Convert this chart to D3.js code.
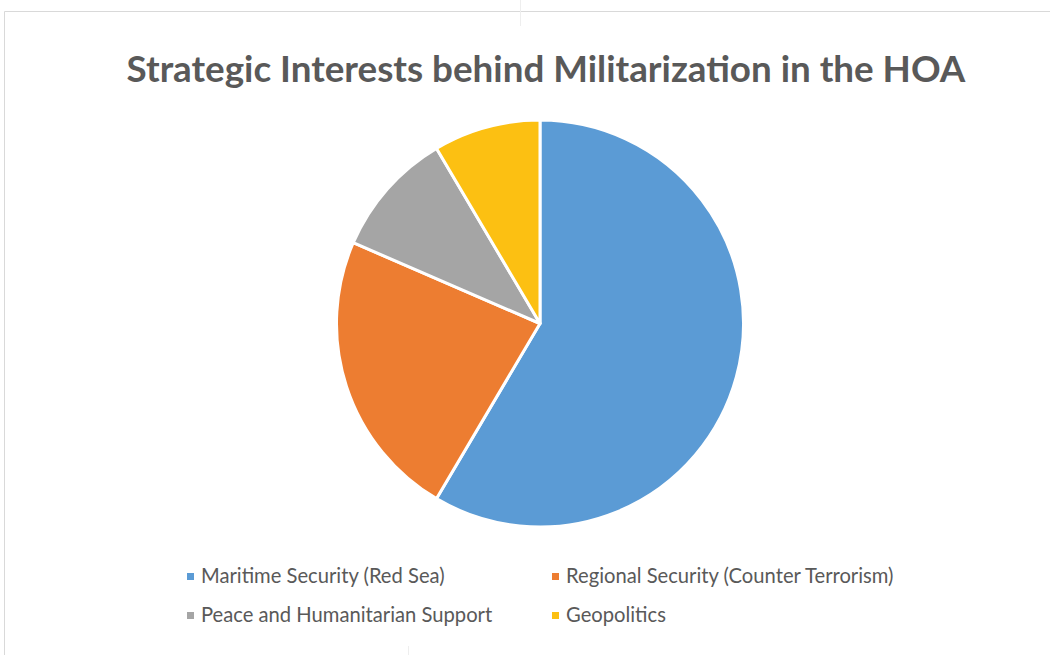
<!DOCTYPE html>
<html>
<head>
<meta charset="utf-8">
<script src="https://cdn.jsdelivr.net/npm/d3@7"></script>
<style>
  body { margin: 0; background: #fff; }
  svg { display: block; }
</style>
</head>
<body>
<div id="chart"></div>
<script>
// Data
const CATEGORIES = [
  "Maritime Security (Red Sea)",
  "Regional Security (Counter Terrorism)",
  "Peace and Humanitarian Support",
  "Geopolitics"
];
const VALUES = [58.5, 23, 10, 8.5];
const COLORS = ["#5b9bd5", "#ed7d31", "#a5a5a5", "#fcc012"];
const TITLE = "Strategic Interests behind Militarization in the HOA";

const W = 1050, H = 655;
const CX = 540, CY = 323.5, R = 203.5;

const svg = d3.select("#chart").append("svg")
  .attr("width", W)
  .attr("height", H);

// chart frame
svg.append("path")
  .attr("d", `M4.5,${H} V11.5 H${W}`)
  .attr("fill", "none")
  .attr("stroke", "#d9d9d9")
  .attr("stroke-width", 1);
svg.append("line")
  .attr("x1", 520.5).attr("x2", 520.5).attr("y1", 0).attr("y2", 26)
  .attr("stroke", "#eeeeee");
svg.append("line")
  .attr("x1", 408.5).attr("x2", 408.5).attr("y1", 646).attr("y2", H)
  .attr("stroke", "#eeeeee");

// Title
const title = svg.append("text")
  .attr("x", 546)
  .attr("y", 82)
  .attr("text-anchor", "middle")
  .attr("font-family", "Lato, 'Open Sans', sans-serif")
  .attr("font-weight", 700)
  .attr("font-size", 36)
  .attr("fill", "#595959")
  .text(TITLE);
// fit title width to the reference
const tw = title.node().getComputedTextLength();
title.attr("font-size", 36 * 839 / tw);

// Pie
const color = d3.scaleOrdinal().domain(CATEGORIES).range(COLORS);
const pie = d3.pie().sort(null).value(d => d.value);
const arc = d3.arc().innerRadius(0).outerRadius(R);
const data = CATEGORIES.map((c, i) => ({ name: c, value: VALUES[i] }));

svg.append("g")
  .attr("transform", `translate(${CX},${CY})`)
  .selectAll("path")
  .data(pie(data))
  .join("path")
  .attr("d", arc)
  .attr("fill", d => color(d.data.name))
  .attr("stroke", "#fff")
  .attr("stroke-width", 3)
  .attr("stroke-linejoin", "round");

// Legend
const legendPos = [
  { x: 187, y: 583 },
  { x: 552, y: 583 },
  { x: 187, y: 622 },
  { x: 552, y: 622 }
];
const legend = svg.append("g")
  .selectAll("g")
  .data(data)
  .join("g")
  .attr("transform", (d, i) => `translate(${legendPos[i].x},${legendPos[i].y})`);

legend.append("rect")
  .attr("x", 0)
  .attr("y", -10)
  .attr("width", 7)
  .attr("height", 7)
  .attr("fill", d => color(d.name));

legend.append("text")
  .attr("x", 14)
  .attr("y", 0)
  .attr("font-family", "Lato, 'Open Sans', sans-serif")
  .attr("font-size", 20.2)
  .attr("fill", "#595959")
  .text(d => d.name);
</script>
</body>
</html>
